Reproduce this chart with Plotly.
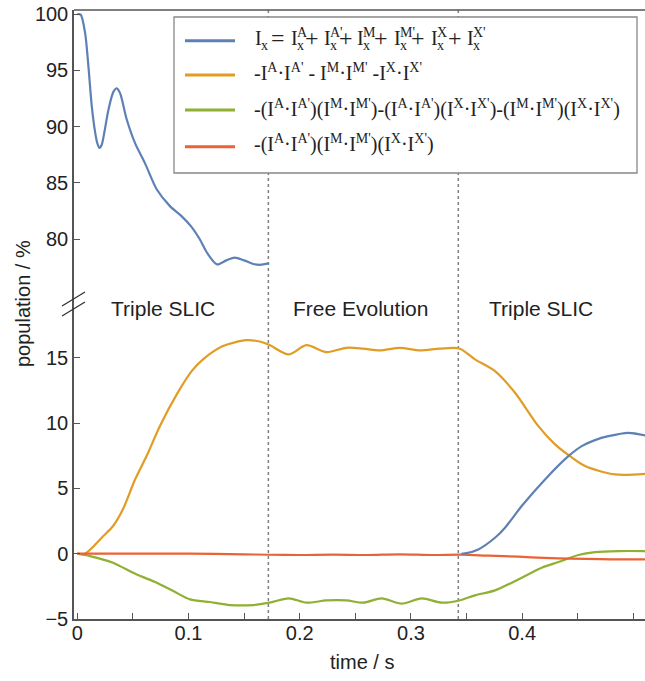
import plotly.graph_objects as go

# ---------------- data ----------------
t_blue_up = [0, 0.003, 0.007, 0.010, 0.013, 0.016, 0.018, 0.020, 0.022, 0.0245, 0.028, 0.0325,
             0.0355, 0.0385, 0.0445, 0.052, 0.061, 0.0715, 0.0835, 0.093, 0.1025, 0.110, 0.1165,
             0.1255, 0.134, 0.1415, 0.150, 0.1575, 0.164, 0.1725]
v_blue_up = [100, 99.95, 98.3, 95.3, 91.8, 89.5, 88.5, 88.1, 88.4, 89.6, 91.5, 93.1,
             93.4, 92.95, 90.6, 88.5, 86.7, 84.4, 82.9, 82.1, 81.1, 80.0, 78.8,
             77.75, 78.1, 78.35, 78.1, 77.8, 77.7, 77.85]

t_blue_lo = [0.3455, 0.3487, 0.3606, 0.3756, 0.3846, 0.3996, 0.4206, 0.4416, 0.4536, 0.4655,
             0.4775, 0.4955, 0.511]
v_blue_lo = [0, 0.02, 0.33, 1.22, 1.99, 3.65, 5.69, 7.47, 8.24, 8.7, 9.0, 9.26, 9.06]

t_orange = [0, 0.007, 0.0234, 0.032, 0.041, 0.052, 0.0624, 0.0744, 0.0894, 0.103, 0.1133, 0.131,
            0.152, 0.164, 0.1725, 0.19, 0.206, 0.224, 0.242, 0.257, 0.272, 0.290, 0.308, 0.326,
            0.3435, 0.3576, 0.3756, 0.3936, 0.4146, 0.4296, 0.443, 0.4566, 0.4835, 0.511]
v_orange = [0, 0, 1.35, 2.1, 3.4, 5.7, 7.5, 9.8, 12.2, 14.0, 14.9, 15.9,
            16.35, 16.25, 16.0, 15.26, 15.97, 15.44, 15.77, 15.7, 15.57, 15.77, 15.57, 15.7,
            15.72, 14.88, 13.98, 12.33, 9.77, 8.37, 7.47, 6.71, 6.07, 6.12]

t_green = [0, 0.0114, 0.032, 0.053, 0.0714, 0.0863, 0.1013, 0.1193, 0.1373, 0.158, 0.1727, 0.19,
           0.206, 0.224, 0.242, 0.257, 0.2737, 0.2917, 0.3097, 0.3277, 0.3435, 0.3576, 0.3756,
           0.3966, 0.4176, 0.4326, 0.4506, 0.4656, 0.4865, 0.511]
v_green = [0, -0.18, -0.69, -1.58, -2.22, -2.86, -3.5, -3.7, -3.93, -3.93, -3.75, -3.42,
           -3.75, -3.58, -3.58, -3.75, -3.42, -3.83, -3.42, -3.75, -3.58, -3.19, -2.81,
           -1.97, -1.07, -0.64, -0.1, 0.12, 0.2, 0.2]

t_red = [0, 0.05, 0.1, 0.15, 0.1725, 0.2, 0.23, 0.26, 0.29, 0.32, 0.345, 0.37, 0.3966, 0.42,
         0.444, 0.47, 0.49, 0.511]
v_red = [0, 0, 0, -0.05, -0.08, -0.1, -0.07, -0.1, -0.05, -0.1, -0.07, -0.15, -0.23, -0.32,
         -0.38, -0.42, -0.44, -0.44]

phase_bounds = [0.1718, 0.3426]
phase_labels = ["Triple SLIC", "Free Evolution", "Triple SLIC"]

x_tickvals = [0, 0.05, 0.1, 0.15, 0.2, 0.25, 0.3, 0.35, 0.4, 0.45, 0.5]
x_ticktext = ["0", "", "0.1", "", "0.2", "", "0.3", "", "0.4", "", "0.5"]
y_lo_ticks = [-5, 0, 5, 10, 15]
y_up_ticks = [80, 85, 90, 95, 100]

BLUE = "#5E81B5"
ORANGE = "#E19C24"
GREEN = "#8FB032"
RED = "#EB6235"
AX = "#555555"
TXT = "#222222"
SANS = "Liberation Sans, Arial, sans-serif"
SERIF = "Liberation Serif, Times New Roman, serif"

W, H = 645, 681
L, R, T, B = 74, 0, 10, 62
PW, PH = W - L - R, H - T - B


def px(x):
    return (x - L) / PW


def py(y):
    return (H - B - y) / PH


split = py(303)

fig = go.Figure()
line = dict(width=2.2, shape="spline", smoothing=0.8)
fig.add_trace(go.Scatter(x=t_blue_up, y=v_blue_up, mode="lines", xaxis="x", yaxis="y2",
                         line=dict(color=BLUE, **line), showlegend=False))
fig.add_trace(go.Scatter(x=t_orange, y=v_orange, mode="lines",
                         line=dict(color=ORANGE, **line), showlegend=False))
fig.add_trace(go.Scatter(x=t_green, y=v_green, mode="lines",
                         line=dict(color=GREEN, **line), showlegend=False))
fig.add_trace(go.Scatter(x=t_red, y=v_red, mode="lines",
                         line=dict(color=RED, **line), showlegend=False))
fig.add_trace(go.Scatter(x=t_blue_lo, y=v_blue_lo, mode="lines",
                         line=dict(color=BLUE, **line), showlegend=False))

axis_common = dict(showgrid=False, zeroline=False, showline=True, linecolor=AX, linewidth=1.5,
                   ticks="inside", ticklen=6, tickwidth=1.3, tickcolor=AX,
                   tickfont=dict(family=SANS, size=20, color=TXT))

fig.update_layout(
    width=W, height=H,
    margin=dict(l=L, r=R, t=T, b=B),
    plot_bgcolor="white", paper_bgcolor="white",
    xaxis=dict(range=[-0.003, 0.5105], tickvals=x_tickvals, ticktext=x_ticktext,
               anchor="y", ticklabelstandoff=-5, **axis_common),
    yaxis=dict(domain=[0, split], range=[-5, 19.2], tickvals=y_lo_ticks, anchor="x",
               **axis_common),
    yaxis2=dict(domain=[split, 1], range=[74.31, 100.36], tickvals=y_up_ticks, anchor="x",
                **axis_common),
)

shapes = []
for xb in phase_bounds:
    shapes.append(dict(type="line", xref="x", yref="paper", x0=xb, x1=xb, y0=0, y1=1,
                       line=dict(color="#808080", width=1.5, dash="dot"), layer="below"))
# top frame
shapes.append(dict(type="line", xref="paper", yref="paper", x0=0, x1=1, y0=1, y1=1,
                   line=dict(color=AX, width=1.5)))
# axis break marks
for dy in (0, 10):
    shapes.append(dict(type="line", xref="paper", yref="paper",
                       x0=px(62), y0=py(306 + dy), x1=px(85), y1=py(292 + dy),
                       line=dict(color="#333333", width=1.3)))
# legend box
shapes.append(dict(type="rect", xref="paper", yref="paper", x0=px(174), x1=px(637),
                   y0=py(173), y1=py(17), fillcolor="white",
                   line=dict(color="#888888", width=1.3), layer="above"))
leg_rows = [40.7, 75, 110, 146.7]
for c, yr in zip([BLUE, ORANGE, GREEN, RED], leg_rows):
    shapes.append(dict(type="line", xref="paper", yref="paper", x0=px(185), x1=px(235),
                       y0=py(yr), y1=py(yr), line=dict(color=c, width=3), layer="above"))
fig.update_layout(shapes=shapes)

ann = []
# axis titles
ann.append(dict(text="time / s", x=px(361.5), y=py(662), xref="paper", yref="paper",
                showarrow=False, xanchor="center", yanchor="middle",
                font=dict(family=SANS, size=20, color=TXT)))
ann.append(dict(text="population / %", x=px(23), y=py(304), xref="paper", yref="paper",
                showarrow=False, textangle=-90, xanchor="center", yanchor="middle",
                font=dict(family=SANS, size=20, color=TXT)))
# phase labels
for lab, cx in zip(phase_labels, [162.5, 360, 540.5]):
    ann.append(dict(text=lab, x=px(cx), y=py(308), xref="paper", yref="paper",
                    showarrow=False, xanchor="center", yanchor="middle",
                    font=dict(family=SANS, size=21, color=TXT)))


def tok(text, x, yc, size):
    return dict(text=text, x=px(x), y=py(yc), xref="paper", yref="paper", showarrow=False,
                xanchor="left", yanchor="middle", borderpad=0,
                font=dict(family=SERIF, size=size, color=TXT))


# legend line 1: I_x = I_x^A + I_x^A' + I_x^M + I_x^M' + I_x^X + I_x^X'
main_I = [254, 289.7, 323, 356.3, 393, 429.7, 466.3]
for xi in main_I:
    ann.append(tok("I", xi, 38.0, 20))
    ann.append(tok("x", xi + 5.8, 45.2, 14))
ops = [("=", 269.5), ("+", 304), ("+", 337.5), ("+", 373), ("+", 409.5), ("+", 447.5)]
for o, xo in ops:
    ann.append(tok(o, xo, 37.5, 24))
sups = ["A", "A'", "M", "M'", "X", "X'"]
for s, xi in zip(sups, main_I[1:]):
    ann.append(tok(s, xi + 6.0, 32.6, 14))

# legend lines 2-4
def pair(a):
    return "I<sup>%s</sup>·I<sup>%s'</sup>" % (a, a)


line2 = "-%s - %s -%s" % (pair("A"), pair("M"), pair("X"))
line3 = "-(%s)(%s)-(%s)(%s)-(%s)(%s)" % (pair("A"), pair("M"), pair("A"), pair("X"),
                                          pair("M"), pair("X"))
line4 = "-(%s)(%s)(%s)" % (pair("A"), pair("M"), pair("X"))
for txt_, yc in zip([line2, line3, line4], [71.6, 108.2, 143.9]):
    ann.append(tok(txt_, 253, yc, 20))

fig.update_layout(annotations=ann)

fig.write_html("out.html", config={"displayModeBar": False},
               post_script="document.body.style.margin='0';")
